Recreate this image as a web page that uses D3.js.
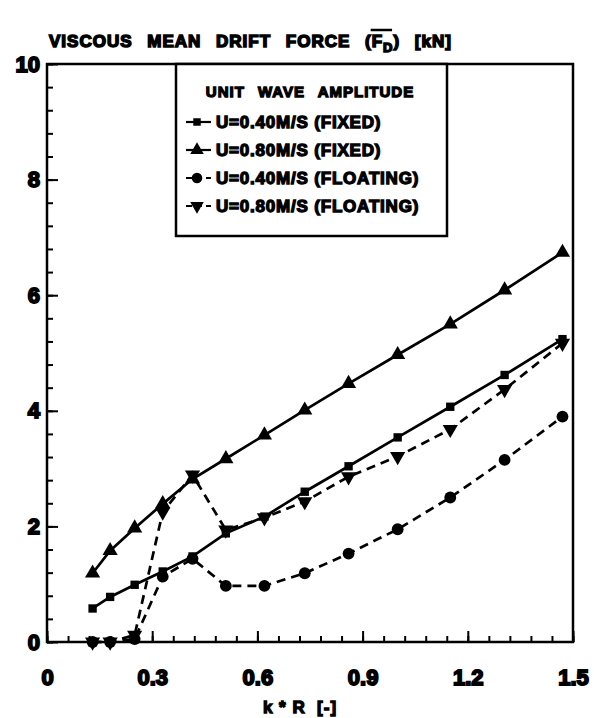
<!DOCTYPE html>
<html>
<head>
<meta charset="utf-8">
<script src="https://cdn.jsdelivr.net/npm/d3@7"></script>
<style>
  body { margin: 0; background: #fff; }
  text { font-family: "Liberation Sans", Arial, sans-serif; font-weight: bold; fill: #000; }
</style>
</head>
<body>
<script>
// k*R values (same for every series)
var kR = [0.13, 0.18, 0.25, 0.33, 0.415, 0.51, 0.62, 0.735, 0.86, 1.0, 1.15, 1.305, 1.47];

var fixed040 = [0.58, 0.78, 0.99, 1.22, 1.48, 1.88, 2.17, 2.60, 3.04, 3.54, 4.07, 4.62, 5.24];
var fixed080 = [1.19, 1.58, 1.97, 2.39, 2.82, 3.17, 3.58, 4.01, 4.47, 4.97, 5.50, 6.09, 6.74];
var float040 = [0.0, 0.0, 0.05, 1.13, 1.44, 0.97, 0.97, 1.19, 1.53, 1.95, 2.50, 3.15, 3.90];
var float080 = [0.0, 0.0, 0.12, 2.25, 2.89, 1.94, 2.15, 2.43, 2.86, 3.21, 3.68, 4.37, 5.17];

var seriesNames = ["U=0.40M/S (FIXED)", "U=0.80M/S (FIXED)", "U=0.40M/S (FLOATING)", "U=0.80M/S (FLOATING)"];
var seriesValues = [fixed040, fixed080, float040, float080];
var seriesSymbols = ["square", "up", "circle", "down"];
var seriesDashed = [false, false, true, true];

var xMajor = [0, 0.3, 0.6, 0.9, 1.2, 1.5];
var yMajor = [0, 2, 4, 6, 8, 10];

var width = 594, height = 718;
var mLeft = 47, mRight = 573, mTop = 64, mBottom = 642;

var svg = d3.select("body").append("svg")
    .attr("width", width)
    .attr("height", height);

var x = d3.scaleLinear().domain([0, 1.5]).range([mLeft, mRight]);
var y = d3.scaleLinear().domain([0, 10]).range([mBottom, mTop]);

// frame
svg.append("rect")
    .attr("x", mLeft).attr("y", mTop)
    .attr("width", mRight - mLeft).attr("height", mBottom - mTop)
    .attr("fill", "none").attr("stroke", "#000").attr("stroke-width", 2.5);

// minor ticks
var xMinor = d3.range(0, 1.5001, 0.06).map(function(d) { return +d.toFixed(2); });
var yMinor = d3.range(0, 10.001, 0.4).map(function(d) { return +d.toFixed(1); });

svg.append("g")
    .attr("transform", "translate(0," + mBottom + ")")
    .call(d3.axisBottom(x).tickValues(xMinor).tickSize(-6).tickFormat(""))
    .call(function(g) { g.select(".domain").remove(); g.selectAll("line").attr("stroke-width", 2); });

svg.append("g")
    .attr("transform", "translate(" + mLeft + ",0)")
    .call(d3.axisLeft(y).tickValues(yMinor).tickSize(-6).tickFormat(""))
    .call(function(g) { g.select(".domain").remove(); g.selectAll("line").attr("stroke-width", 2); });

function styleLabels(g) {
    g.select(".domain").remove();
    g.selectAll("line").attr("stroke-width", 2);
    g.selectAll("text")
        .attr("font-size", 22)
        .attr("stroke", "#000").attr("stroke-width", 1.8)
        .attr("font-family", "Liberation Sans").attr("font-weight", "bold");
}

// major ticks + labels
svg.append("g")
    .attr("transform", "translate(0," + mBottom + ")")
    .call(d3.axisBottom(x).tickValues(xMajor).tickSizeInner(-11).tickSizeOuter(0).tickPadding(27)
        .tickFormat(function(d) { return d === 0 ? "0" : d3.format(".1f")(d); }))
    .call(styleLabels);

svg.append("g")
    .attr("transform", "translate(" + mLeft + ",0)")
    .call(d3.axisLeft(y).tickValues(yMajor).tickSizeInner(-11).tickSizeOuter(0).tickPadding(7))
    .call(styleLabels);

// axis title
svg.append("text")
    .attr("x", 300).attr("y", 713)
    .attr("text-anchor", "middle")
    .attr("font-size", 17).attr("stroke", "#000").attr("stroke-width", 1.3)
    .style("white-space", "pre")
    .style("letter-spacing", "1px")
    .text("k * R  [-]");

// chart title
var title = svg.append("text")
    .attr("x", 49).attr("y", 47)
    .attr("font-size", 17).attr("stroke", "#000").attr("stroke-width", 1.5)
    .style("letter-spacing", "1px")
    .style("word-spacing", "9px");
title.append("tspan").text("VISCOUS MEAN DRIFT FORCE (");
title.append("tspan").attr("id", "fsym").text("F");
title.append("tspan").attr("font-size", 13).attr("dy", 5).text("D");
title.append("tspan").attr("dy", -5).text(") [kN]");
var fNode = document.getElementById("fsym");
var e = fNode.getExtentOfChar(0);
svg.append("line")
    .attr("x1", e.x - 1).attr("x2", e.x + e.width + 9)
    .attr("y1", 30).attr("y2", 30)
    .attr("stroke", "#000").attr("stroke-width", 2.5);

// symbols
function symbolPath(sym, size) {
    var t = sym === "square" ? d3.symbolSquare : sym === "circle" ? d3.symbolCircle : d3.symbolTriangle;
    return d3.symbol().type(t).size(size)();
}
function symbolSize(sym) {
    if (sym === "circle") return 110;
    if (sym === "square") return 70;
    return 100;
}
function symbolRot(sym) { return sym === "down" ? " rotate(180)" : ""; }

var line = d3.line()
    .x(function(d) { return x(d[0]); })
    .y(function(d) { return y(d[1]); });

seriesValues.forEach(function(vals, i) {
    var pts = kR.map(function(k, j) { return [k, vals[j]]; });
    svg.append("path")
        .datum(pts)
        .attr("d", line)
        .attr("fill", "none")
        .attr("stroke", "#000")
        .attr("stroke-width", 2.7)
        .attr("stroke-dasharray", seriesDashed[i] ? "9,6" : null);
    svg.append("g").selectAll("path")
        .data(pts)
        .enter().append("path")
        .attr("transform", function(d) { return "translate(" + x(d[0]) + "," + y(d[1]) + ")" + symbolRot(seriesSymbols[i]); })
        .attr("d", symbolPath(seriesSymbols[i], symbolSize(seriesSymbols[i])))
        .attr("fill", "#000");
});

// legend
var lg = svg.append("g");
lg.append("rect")
    .attr("x", 176).attr("y", 64)
    .attr("width", 271).attr("height", 172)
    .attr("fill", "#fff").attr("stroke", "#000").attr("stroke-width", 2.5);
lg.append("text")
    .attr("x", 310).attr("y", 97)
    .attr("text-anchor", "middle")
    .attr("font-size", 15).attr("stroke", "#000").attr("stroke-width", 1.3)
    .style("letter-spacing", "1px")
    .style("word-spacing", "8px")
    .text("UNIT WAVE AMPLITUDE");

var rowY = [122, 150, 178, 206];
seriesNames.forEach(function(name, i) {
    var ry = rowY[i];
    lg.append("line")
        .attr("x1", 186).attr("x2", 211)
        .attr("y1", ry).attr("y2", ry)
        .attr("stroke", "#000").attr("stroke-width", 2.2)
        .attr("stroke-dasharray", seriesDashed[i] ? "6,4" : null);
    lg.append("path")
        .attr("transform", "translate(197," + ry + ")" + symbolRot(seriesSymbols[i]))
        .attr("d", symbolPath(seriesSymbols[i], symbolSize(seriesSymbols[i]) * 0.8))
        .attr("fill", "#000");
    lg.append("text")
        .attr("x", 216).attr("y", ry + 6)
        .attr("font-size", 17).attr("stroke", "#000").attr("stroke-width", 1.3)
        .style("letter-spacing", "0.8px")
        .text(name);
});
</script>
</body>
</html>
